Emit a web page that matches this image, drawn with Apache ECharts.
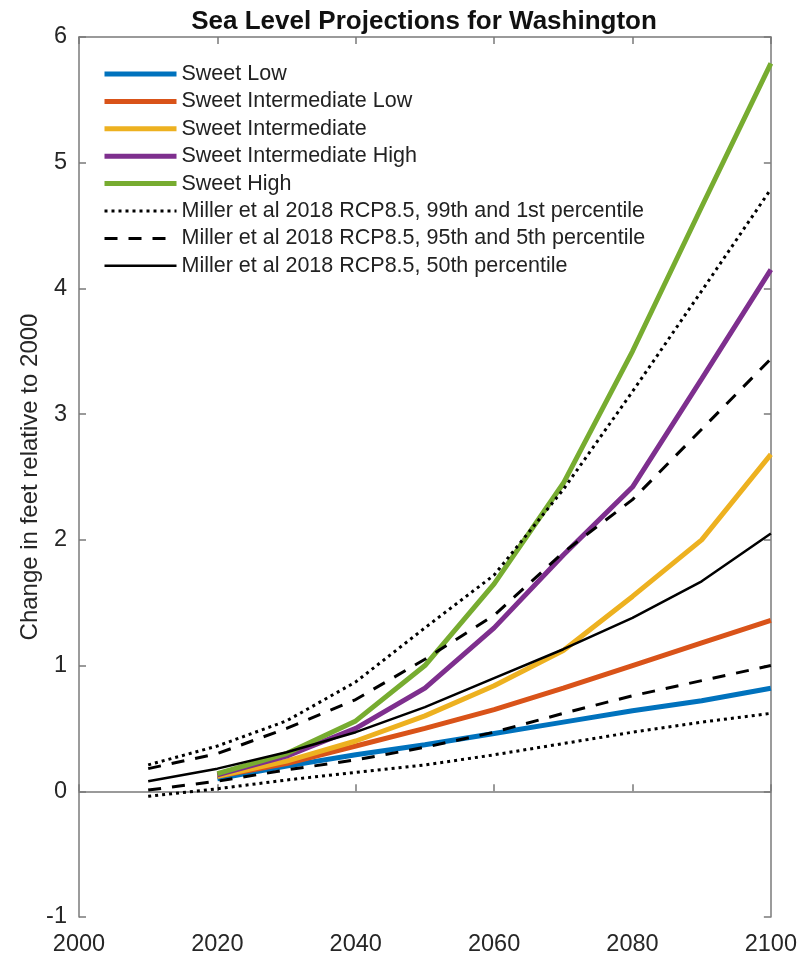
<!DOCTYPE html>
<html>
<head>
<meta charset="utf-8">
<script src="https://cdn.jsdelivr.net/npm/echarts@6/dist/echarts.min.js"></script>
<style>html,body{margin:0;padding:0;background:#fff;}#chart{width:800px;height:957px;}</style>
</head>
<body>
<div id="chart"></div>
<script>
// Years
const yearsSweet = [2020, 2030, 2040, 2050, 2060, 2070, 2080, 2090, 2100];
const yearsMiller = [2010, 2020, 2030, 2040, 2050, 2060, 2070, 2080, 2090, 2100];

// Sweet et al. scenarios (feet)
const sweetLow      = [0.10, 0.20, 0.29, 0.37, 0.46, 0.55, 0.64, 0.72, 0.82];
const sweetIntLow   = [0.12, 0.22, 0.36, 0.50, 0.65, 0.82, 1.00, 1.18, 1.36];
const sweetInt      = [0.12, 0.24, 0.40, 0.60, 0.84, 1.12, 1.55, 2.00, 2.68];
const sweetIntHigh  = [0.13, 0.28, 0.50, 0.82, 1.30, 1.88, 2.42, 3.28, 4.15];
const sweetHigh     = [0.14, 0.30, 0.56, 1.00, 1.65, 2.45, 3.50, 4.65, 5.79];

// Miller et al 2018 RCP8.5 percentiles (feet)
const miller99 = [0.21, 0.36, 0.56, 0.87, 1.30, 1.72, 2.40, 3.18, 3.98, 4.79];
const miller95 = [0.18, 0.30, 0.50, 0.73, 1.05, 1.40, 1.90, 2.32, 2.88, 3.44];
const miller50 = [0.08, 0.18, 0.31, 0.47, 0.67, 0.90, 1.13, 1.38, 1.67, 2.05];
const miller05 = [0.01, 0.08, 0.17, 0.25, 0.35, 0.47, 0.62, 0.76, 0.88, 1.00];
const miller01 = [-0.04, 0.02, 0.09, 0.15, 0.21, 0.29, 0.38, 0.47, 0.55, 0.62];

const xTicks = [2000, 2020, 2040, 2060, 2080, 2100];
const yTicks = [-1, 0, 1, 2, 3, 4, 5, 6];

const nameLow = 'Sweet Low';
const nameIntLow = 'Sweet Intermediate Low';
const nameInt = 'Sweet Intermediate';
const nameIntHigh = 'Sweet Intermediate High';
const nameHigh = 'Sweet High';
const name99 = 'Miller et al 2018 RCP8.5, 99th and 1st percentile';
const name95 = 'Miller et al 2018 RCP8.5, 95th and 5th percentile';
const name50 = 'Miller et al 2018 RCP8.5, 50th percentile';

function pairs(xs, ys) { return xs.map((x, i) => [x, ys[i]]); }

const FONT = 'Liberation Sans, Arial, Helvetica, sans-serif';
const AXIS_COLOR = '#7a7a7a';

function sweet(name, data, color) {
  return {
    name: name, type: 'line', data: pairs(yearsSweet, data),
    showSymbol: false, symbol: 'none', z: 2,
    lineStyle: { color: color, width: 5 },
    itemStyle: { color: color }
  };
}
function miller(name, data, type, width) {
  return {
    name: name, type: 'line', data: pairs(yearsMiller, data),
    showSymbol: false, symbol: 'none', z: 3,
    lineStyle: { color: '#000', width: width, type: type, cap: 'butt' },
    itemStyle: { color: '#000' }
  };
}

const chart = echarts.init(document.getElementById('chart'), null, { renderer: 'canvas' });
const option = {
  animation: false,
  backgroundColor: '#fff',
  textStyle: { fontFamily: FONT },
  title: {
    text: 'Sea Level Projections for Washington',
    left: 419, top: 4, textAlign: 'center',
    textStyle: { fontFamily: FONT, fontSize: 26, fontWeight: 'bold', color: '#111' }
  },
  grid: { left: 79, top: 37, width: 692, height: 882, containLabel: false },
  legend: {
    orient: 'vertical', left: 97, top: 58,
    itemWidth: 72, itemHeight: 14, itemGap: 5.4,
    itemStyle: { opacity: 0 },
    lineStyle: { width: 'inherit' },
    textStyle: { fontFamily: FONT, fontSize: 21.5, color: '#222' },
    data: [nameLow, nameIntLow, nameInt, nameIntHigh, nameHigh, name99, name95, name50],
    selectedMode: false
  },
  xAxis: [{
    type: 'value', min: 2000, max: 2100, interval: 20, position: 'bottom',
    axisLine: { show: true, lineStyle: { color: AXIS_COLOR, width: 1.5 } },
    axisTick: { show: true, inside: true, length: 7, lineStyle: { color: AXIS_COLOR, width: 1.5 } },
    axisLabel: { fontFamily: FONT, fontSize: 23.5, color: '#262626', margin: 16,
      formatter: v => String(v) },
    splitLine: { show: false }
  }, {
    type: 'value', min: 2000, max: 2100, interval: 20, position: 'top',
    axisLine: { show: true, onZero: false, lineStyle: { color: AXIS_COLOR, width: 1.5 } },
    axisTick: { show: true, inside: true, length: 7, lineStyle: { color: AXIS_COLOR, width: 1.5 } },
    axisLabel: { show: false }, splitLine: { show: false }
  }],
  yAxis: [{
    type: 'value', min: -1, max: 6, interval: 1, position: 'left',
    name: 'Change in feet relative to 2000', nameLocation: 'middle', nameGap: 37,
    nameMoveOverlap: false,
    nameTextStyle: { fontFamily: FONT, fontSize: 24, color: '#262626' },
    axisLine: { show: true, onZero: false, lineStyle: { color: AXIS_COLOR, width: 1.5 } },
    axisTick: { show: true, inside: true, length: 7, lineStyle: { color: AXIS_COLOR, width: 1.5 } },
    axisLabel: { fontFamily: FONT, fontSize: 23.5, color: '#262626', margin: 12 },
    splitLine: { show: false }
  }, {
    type: 'value', min: -1, max: 6, interval: 1, position: 'right',
    axisLine: { show: true, onZero: false, lineStyle: { color: AXIS_COLOR, width: 1.5 } },
    axisTick: { show: true, inside: true, length: 7, lineStyle: { color: AXIS_COLOR, width: 1.5 } },
    axisLabel: { show: false }, splitLine: { show: false }
  }],
  series: [
    sweet(nameLow, sweetLow, '#0072BD'),
    sweet(nameIntLow, sweetIntLow, '#D95319'),
    sweet(nameInt, sweetInt, '#EDB120'),
    sweet(nameIntHigh, sweetIntHigh, '#7E2F8E'),
    sweet(nameHigh, sweetHigh, '#77AC30'),
    miller(name99, miller99, [3, 4], 3),
    miller(name99, miller01, [3, 4], 3),
    miller(name95, miller95, [13, 11], 3),
    miller(name95, miller05, [13, 11], 3),
    miller(name50, miller50, 'solid', 2.5)
  ]
};
chart.setOption(option);
</script>
</body>
</html>
